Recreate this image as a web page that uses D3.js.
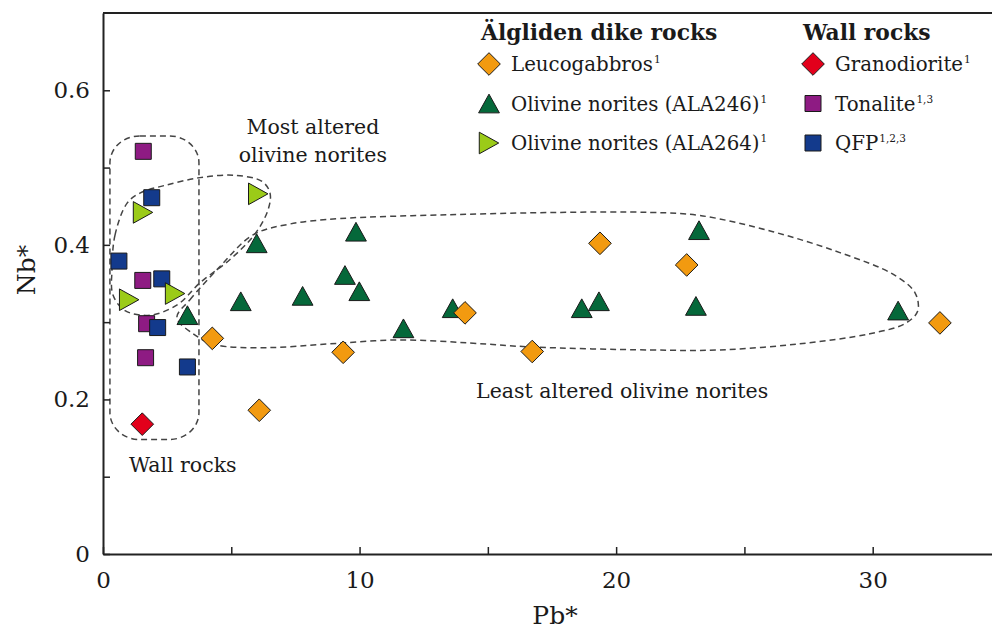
<!DOCTYPE html>
<html>
<head>
<meta charset="utf-8">
<script src="https://cdn.jsdelivr.net/npm/d3@7"></script>
<style>
  html, body { margin: 0; padding: 0; background: #fff; }
  svg { display: block; }
  text { font-family: "DejaVu Serif", Georgia, serif; fill: #1a1a1a; }
</style>
</head>
<body>
<svg id="chart" width="992" height="632"></svg>
<script>
// ---------------- data (Pb*, Nb*) ----------------
const leucogabbros = [[4.26,0.279],[6.09,0.186],[9.36,0.261],[14.11,0.312],[16.73,0.262],[19.37,0.402],[22.75,0.374],[32.62,0.299]];
const ala246 = [[3.29,0.309],[5.37,0.327],[5.99,0.402],[7.78,0.334],[9.43,0.361],[9.86,0.417],[9.99,0.340],[11.71,0.292],[13.63,0.318],[18.66,0.318],[19.33,0.327],[23.23,0.419],[23.11,0.321],[30.99,0.315]];
const ala264 = [[1.56,0.442],[6.05,0.466],[1.02,0.329],[2.81,0.337]];
const granodiorite = [[1.53,0.168]];
const tonalite = [[1.57,0.521],[1.55,0.354],[1.70,0.298],[1.66,0.254]];
const qfp = [[1.90,0.461],[0.62,0.379],[2.29,0.356],[2.13,0.293],[3.29,0.242]];

const xTicks = [0,5,10,15,20,25,30];
const xTickLabels = ["0","","10","","20","","30"];
const yTicks = [0,0.1,0.2,0.3,0.4,0.5,0.6];
const yTickLabels = ["0","","0.2","","0.4","","0.6"];

// envelopes (data units)
const mostAlteredOutline = [[0.94,0.454],[0.47,0.413],[0.35,0.368],[0.39,0.335],[0.86,0.315],[1.83,0.309],[2.92,0.323],[3.78,0.351],[4.95,0.381],[5.92,0.414],[6.43,0.445],[6.51,0.467],[6.20,0.482],[5.14,0.490],[3.78,0.487],[2.42,0.477],[1.44,0.467]];
const leastAlteredOutline = [[2.88,0.306],[3.39,0.329],[4.56,0.372],[5.85,0.413],[7.29,0.427],[9.24,0.434],[13.52,0.439],[17.81,0.442],[21.32,0.442],[23.27,0.438],[26.11,0.417],[28.72,0.390],[30.79,0.362],[31.65,0.338],[31.75,0.314],[31.25,0.298],[29.89,0.285],[27.16,0.272],[24.04,0.264],[21.32,0.264],[16.64,0.268],[14.30,0.273],[11.57,0.277],[8.85,0.272],[6.39,0.267],[4.36,0.271],[3.47,0.286]];
const wallRocksBox = [[0.27,0.541],[3.74,0.148]];

const annotations = [
  {text:"Most altered", x:8.18, y:0.544, anchor:"middle"},
  {text:"olivine norites", x:8.18, y:0.507, anchor:"middle"},
  {text:"Least altered olivine norites", x:14.54, y:0.202, anchor:"start"},
  {text:"Wall rocks", x:1.01, y:0.106, anchor:"start"}
];

// ---------------- setup ----------------
const svg = d3.select("#chart");
const x = d3.scaleLinear().domain([0, 34.65]).range([103, 992]);
const y = d3.scaleLinear().domain([0, 0.7]).range([554, 13]);

// custom symbol types (bbox-centred)
const symSquare = { draw(c, size){ const s = Math.sqrt(size)/2; c.moveTo(-s,-s); c.lineTo(s,-s); c.lineTo(s,s); c.lineTo(-s,s); c.closePath(); } };
const symDiamond = { draw(c, size){ const r = Math.sqrt(size)/Math.SQRT2; c.moveTo(0,-r); c.lineTo(r,0); c.lineTo(0,r); c.lineTo(-r,0); c.closePath(); } };
const symTriUp = { draw(c, size){ const w = Math.sqrt(size)*1.3, h = w*0.9; c.moveTo(0,-h/2); c.lineTo(w/2,h/2); c.lineTo(-w/2,h/2); c.closePath(); } };
const symTriRight = { draw(c, size){ const w = Math.sqrt(size)*1.35, h = w*0.9; c.moveTo(h/2,0); c.lineTo(-h/2,w/2); c.lineTo(-h/2,-w/2); c.closePath(); } };

const series = [
  {key:"tonalite", data:tonalite, type:symSquare, fill:"#8e1b83"},
  {key:"qfp", data:qfp, type:symSquare, fill:"#133a8c"},
  {key:"granodiorite", data:granodiorite, type:symDiamond, fill:"#e2001b"},
  {key:"ala264", data:ala264, type:symTriRight, fill:"#9bcb18"},
  {key:"ala246", data:ala246, type:symTriUp, fill:"#05683a"},
  {key:"leuco", data:leucogabbros, type:symDiamond, fill:"#f29a10"}
];
const markerSize = 256;

// ---------------- envelopes ----------------
const line = d3.line().x(d => x(d[0])).y(d => y(d[1])).curve(d3.curveCatmullRomClosed.alpha(0.5));
const env = svg.append("g").attr("fill","none").attr("stroke","#444").attr("stroke-width",1.5).attr("stroke-dasharray","6,4");
env.append("rect")
  .attr("x", x(wallRocksBox[0][0])).attr("y", y(wallRocksBox[0][1]))
  .attr("width", x(wallRocksBox[1][0]) - x(wallRocksBox[0][0]))
  .attr("height", y(wallRocksBox[1][1]) - y(wallRocksBox[0][1]))
  .attr("rx", 30).attr("ry", 27);
env.append("path").attr("d", line(mostAlteredOutline));
env.append("path").attr("d", line(leastAlteredOutline));

// ---------------- axes ----------------
const xAxis = d3.axisBottom(x).tickValues(xTicks).tickSizeInner(-7).tickSizeOuter(0).tickPadding(22)
  .tickFormat((d,i) => xTickLabels[i]);
const yAxis = d3.axisLeft(y).tickValues(yTicks).tickSizeInner(-7).tickSizeOuter(0).tickPadding(13)
  .tickFormat((d,i) => yTickLabels[i]);

const gx = svg.append("g").attr("transform", `translate(0,${y(0)})`).call(xAxis);
const gy = svg.append("g").attr("transform", `translate(${x(0)},0)`).call(yAxis);
[gx, gy].forEach(g => {
  g.select(".domain").attr("stroke","#222").attr("stroke-width",2);
  g.selectAll(".tick line").attr("stroke","#222").attr("stroke-width",1.5);
  g.selectAll(".tick text").attr("font-family","DejaVu Serif").attr("font-size",23).attr("fill","#1a1a1a");
});
gx.selectAll(".tick text").attr("dy","0.5em");
// top border
svg.append("line").attr("x1", x(0)).attr("x2", x(34.65)).attr("y1", y(0.7)).attr("y2", y(0.7))
  .attr("stroke","#222").attr("stroke-width",2);

// axis titles
svg.append("text").attr("x", 555).attr("y", 624).attr("text-anchor","middle").attr("font-size",25).text("Pb*");
svg.append("text").attr("transform","translate(35,270) rotate(-90)").attr("text-anchor","middle").attr("font-size",25).text("Nb*");

// ---------------- annotations ----------------
svg.append("g").selectAll("text").data(annotations).join("text")
  .attr("x", d => x(d.x)).attr("y", d => y(d.y)).attr("text-anchor", d => d.anchor)
  .attr("font-size", 20.5).text(d => d.text);

// ---------------- points ----------------
const pts = svg.append("g");
series.forEach(s => {
  pts.append("g").selectAll("path").data(s.data).join("path")
    .attr("transform", d => `translate(${x(d[0])},${y(d[1])})`)
    .attr("d", d3.symbol().type(s.type).size(markerSize)())
    .attr("fill", s.fill).attr("stroke","#1a1a1a").attr("stroke-width",1);
});

// ---------------- legend ----------------
const legendDike = [
  {label:"Leucogabbros", sup:"1", type:symDiamond, fill:"#f29a10"},
  {label:"Olivine norites (ALA246)", sup:"1", type:symTriUp, fill:"#05683a"},
  {label:"Olivine norites (ALA264)", sup:"1", type:symTriRight, fill:"#9bcb18"}
];
const legendWall = [
  {label:"Granodiorite", sup:"1", type:symDiamond, fill:"#e2001b"},
  {label:"Tonalite", sup:"1,3", type:symSquare, fill:"#8e1b83"},
  {label:"QFP", sup:"1,2,3", type:symSquare, fill:"#133a8c"}
];
function legend(title, items, tx, mx, txtx) {
  const g = svg.append("g");
  g.append("text").attr("x", tx).attr("y", 40).attr("font-weight","bold").attr("font-size",21.8).text(title);
  const rows = g.selectAll("g.item").data(items).join("g").attr("class","item")
    .attr("transform", (d,i) => `translate(0,${64 + i*39.5})`);
  rows.append("path").attr("transform", `translate(${mx},0)`)
    .attr("d", d => d3.symbol().type(d.type).size(markerSize)())
    .attr("fill", d => d.fill).attr("stroke","#1a1a1a").attr("stroke-width",1);
  const t = rows.append("text").attr("x", txtx).attr("y", 7).attr("font-size",19.8);
  t.append("tspan").text(d => d.label);
  t.append("tspan").attr("font-size",10.5).attr("dy",-8).attr("dx",1).text(d => d.sup);
}
legend("Älgliden dike rocks", legendDike, 481, 489, 511);
legend("Wall rocks", legendWall, 803, 813, 835);
</script>
</body>
</html>
